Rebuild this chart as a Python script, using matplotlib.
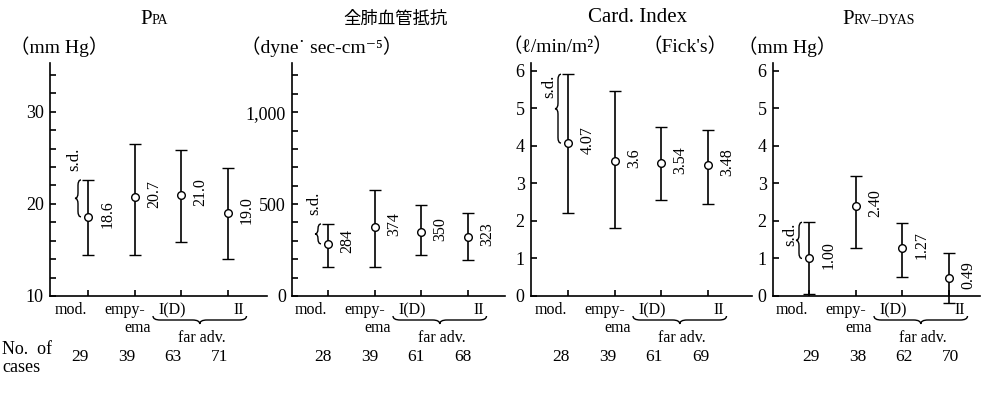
import matplotlib
matplotlib.use('Agg')
import matplotlib.pyplot as plt
from matplotlib.path import Path
from matplotlib.patches import PathPatch
from matplotlib.transforms import IdentityTransform

plt.rcParams['font.family'] = ['Liberation Serif', 'Noto Sans CJK JP', 'DejaVu Sans']

# ---------------- data ----------------
groups = ['mod.', 'empy-', 'I(D)', 'II']

ppa_mean = [18.6, 20.7, 21.0, 19.0]
ppa_low = [14.4, 14.4, 15.9, 14.0]
ppa_high = [22.6, 26.5, 25.9, 23.9]
ppa_labels = ['18.6', '20.7', '21.0', '19.0']
ppa_n = [29, 39, 63, 71]

pvr_mean = [284, 374, 350, 323]
pvr_low = [158, 158, 222, 197]
pvr_high = [392, 578, 493, 453]
pvr_labels = ['284', '374', '350', '323']
pvr_n = [28, 39, 61, 68]

ci_mean = [4.07, 3.6, 3.54, 3.48]
ci_low = [2.2, 1.82, 2.56, 2.45]
ci_high = [5.9, 5.46, 4.51, 4.43]
ci_labels = ['4.07', '3.6', '3.54', '3.48']
ci_n = [28, 39, 61, 69]

rv_mean = [1.00, 2.40, 1.27, 0.49]
rv_low = [0.04, 1.29, 0.51, -0.18]
rv_high = [1.96, 3.20, 1.95, 1.15]
rv_labels = ['1.00', '2.40', '1.27', '0.49']
rv_n = [29, 38, 62, 70]

ppa_ticks = [10, 20, 30]
pvr_ticks = [0, 500, 1000]
pvr_ticklabels = ['0', '500', '1,000']
ci_ticks = [0, 1, 2, 3, 4, 5, 6]
rv_ticks = [0, 1, 2, 3, 4, 5, 6]

# ---------------- layout ----------------
W, H, DPI = 981, 399, 100
fig = plt.figure(figsize=(W / DPI, H / DPI), dpi=DPI)
PX = 72.0 / DPI  # points per pixel

AX_BOTTOM, AX_TOP = 296, 63
TICK_PX = 46.5

panels = [
    dict(left=50, right=267, off=38, mean=ppa_mean, low=ppa_low, high=ppa_high,
         labels=ppa_labels, n=ppa_n, ylim=(10, 35.3), minor=2, major=ppa_ticks,
         majorlab=[str(t) for t in ppa_ticks], sd='above', nshift=-8),
    dict(left=292, right=505, off=36, mean=pvr_mean, low=pvr_low, high=pvr_high,
         labels=pvr_labels, n=pvr_n, ylim=(0, 1268), minor=100, major=pvr_ticks,
         majorlab=pvr_ticklabels, sd='above', nshift=-5),
    dict(left=531, right=752, off=37, mean=ci_mean, low=ci_low, high=ci_high,
         labels=ci_labels, n=ci_n, ylim=(0, 6.2), minor=1, major=ci_ticks,
         majorlab=[str(t) for t in ci_ticks], sd='left', nshift=-7),
    dict(left=773, right=980, off=36, mean=rv_mean, low=rv_low, high=rv_high,
         labels=rv_labels, n=rv_n, ylim=(0, 6.2), minor=1, major=rv_ticks,
         majorlab=[str(t) for t in rv_ticks], sd='left', nshift=2),
]


def brace_path(x0, x1, y0, y1, vertical):
    """Curly brace in display coords. vertical: tip at x0 (left), spans y0..y1.
    horizontal: spans x0..x1, tip at y0 (down), arms at y1."""
    if vertical:
        w = x1 - x0
        xm = x0 + w / 2
        ym = (y0 + y1) / 2
        r = min(w * 0.9, (y1 - y0) / 4)
        verts = [(x1, y0), (xm, y0), (xm, y0 + r), (xm, ym - r), (xm, ym), (x0, ym),
                 (xm, ym), (xm, ym + r), (xm, y1 - r), (xm, y1), (x1, y1)]
    else:
        h = y1 - y0
        ym = y0 + h / 2
        xm = (x0 + x1) / 2
        r = min(h * 0.9, (x1 - x0) / 4)
        verts = [(x0, y1), (x0, ym), (x0 + r, ym), (xm - r, ym), (xm, ym), (xm, y0),
                 (xm, ym), (xm + r, ym), (x1 - r, ym), (x1, ym), (x1, y1)]
    codes = [Path.MOVETO, Path.CURVE3, Path.CURVE3, Path.LINETO, Path.CURVE3, Path.CURVE3,
             Path.CURVE3, Path.CURVE3, Path.LINETO, Path.CURVE3, Path.CURVE3]
    return Path(verts, codes)


LW = 1.2
num_font = 13
cat_font = 11.5
for p in panels:
    width = p['right'] - p['left']
    ax = fig.add_axes([p['left'] / W, (H - AX_BOTTOM) / H, width / W, (AX_BOTTOM - AX_TOP) / H])
    xs = list(range(len(groups)))
    ax.set_xlim(-p['off'] / TICK_PX, (width - p['off']) / TICK_PX)
    ax.set_ylim(*p['ylim'])
    for s in ['top', 'right']:
        ax.spines[s].set_visible(False)
    for s in ['left', 'bottom']:
        ax.spines[s].set_linewidth(LW)
    ax.set_xticks(xs)
    ax.set_xticklabels([])
    lo, hi = p['ylim']
    step = p['minor']
    t = lo
    yt = []
    while t <= hi + 1e-9:
        yt.append(t)
        t += step
    ax.set_yticks(yt)
    ax.set_yticklabels([p['majorlab'][p['major'].index(v)] if v in p['major'] else '' for v in yt],
                       fontsize=num_font)
    ax.tick_params(axis='both', direction='in', length=4.5, width=LW, pad=4.5)

    # error bars
    yerr = [[m - l for m, l in zip(p['mean'], p['low'])], [h - m for m, h in zip(p['mean'], p['high'])]]
    eb = ax.errorbar(xs, p['mean'], yerr=yerr, fmt='o', color='black', ecolor='black',
                     elinewidth=LW, capsize=4, capthick=LW, markersize=5.5,
                     markerfacecolor='white', markeredgecolor='black', markeredgewidth=1.0,
                     zorder=3)
    eb.lines[0].set_clip_on(False)
    for art in list(eb.lines[1]) + list(eb.lines[2]):
        art.set_clip_on(False)

    # value labels
    for x, m, lab in zip(xs, p['mean'], p['labels']):
        ax.annotate(lab, xy=(x, m), xycoords='data', xytext=(19.5 * PX, 3 * PX),
                    textcoords='offset points', rotation=90, ha='center', va='center',
                    fontsize=11.5)

    # category labels below
    cat_offsets = {'mod.': -17, 'empy-': -10, 'I(D)': -9, 'II': 11}
    for x, g in zip(xs, groups):
        ax.annotate(g, xy=(x, 0), xycoords=('data', 'axes fraction'),
                    xytext=(cat_offsets[g] * PX, -14 * PX), textcoords='offset points',
                    ha='center', va='center', fontsize=cat_font)
    ax.annotate('ema', xy=(1, 0), xycoords=('data', 'axes fraction'),
                xytext=(3 * PX, -32 * PX), textcoords='offset points',
                ha='center', va='center', fontsize=cat_font)
    ax.annotate('far adv.', xy=(2.5, 0), xycoords=('data', 'axes fraction'),
                xytext=(-2 * PX, -42 * PX), textcoords='offset points',
                ha='center', va='center', fontsize=cat_font)
    # case numbers
    for x, nn in zip(xs, p['n']):
        ax.annotate(str(nn), xy=(x, 0), xycoords=('data', 'axes fraction'),
                    xytext=(p['nshift'] * PX, -61 * PX), textcoords='offset points',
                    ha='center', va='center', fontsize=12.5)
    p['ax'] = ax

fig.canvas.draw()

# braces (drawn in display pixel coordinates)
for p in panels:
    ax = p['ax']
    # horizontal brace under I(D) II
    x2 = ax.transData.transform((2, 0))[0]
    x3 = ax.transData.transform((3, 0))[0]
    ytop = H - 316
    ytip = H - 324
    path = brace_path(x2 - 28, x3 + 19, ytip, ytop, vertical=False)
    fig.add_artist(PathPatch(path, transform=IdentityTransform(), fill=False, lw=1.0,
                             edgecolor='black'))
    # vertical s.d. brace at first group (mean to top)
    xd, ym = ax.transData.transform((0, p['mean'][0]))
    _, yh = ax.transData.transform((0, p['high'][0]))
    tipx = xd - 13
    path = brace_path(tipx, tipx + 6, ym, yh, vertical=True)
    fig.add_artist(PathPatch(path, transform=IdentityTransform(), fill=False, lw=1.0,
                             edgecolor='black'))
    if p['sd'] == 'above':
        ax.annotate('s.d.', xy=(0, p['high'][0]), xycoords='data',
                    xytext=(-14 * PX, 21 * PX), textcoords='offset points',
                    rotation=90, ha='center', va='center', fontsize=12)
    else:
        ax.annotate('s.d.', xy=(0, p['high'][0]), xycoords='data',
                    xytext=(-19 * PX, -12 * PX), textcoords='offset points',
                    rotation=90, ha='center', va='center', fontsize=12)


def ftext(x, y, s, **kw):
    fig.text(x / W, 1 - y / H, s, **kw)


# titles
ftext(152, 24, 'P', ha='right', va='baseline', fontsize=15)
ftext(152, 24, 'PA', ha='left', va='baseline', fontsize=10)
ftext(395, 19, '全肺血管抵抗', ha='center', va='center', fontsize=12.5,
      family=['Noto Sans CJK JP'])
ftext(638, 17, 'Card. Index', ha='center', va='center', fontsize=15)
ftext(854, 24, 'P', ha='right', va='baseline', fontsize=15)
ftext(854, 24, 'RV\u2013DYAS', ha='left', va='baseline', fontsize=10)

# units (full-width parentheses as in the Japanese typesetting)
UF = 14
ftext(10, 47, '\uff08mm Hg\uff09', ha='left', va='center', fontsize=UF)
ftext(241, 47, '\uff08dyne\u02d9 sec-cm\u207b\u2075\uff09', ha='left', va='center', fontsize=UF)
ftext(502, 47, '\uff08\u2113/min/m\u00b2\uff09', ha='left', va='center', fontsize=UF)
ftext(642, 47, "\uff08Fick's\uff09", ha='left', va='center', fontsize=UF)
ftext(738, 47, '\uff08mm Hg\uff09', ha='left', va='center', fontsize=UF)

# No. of cases
ftext(2, 349, 'No.  of', ha='left', va='center', fontsize=13)
ftext(2, 367, 'cases', ha='left', va='center', fontsize=13)

fig.savefig('out.png', dpi=DPI)
